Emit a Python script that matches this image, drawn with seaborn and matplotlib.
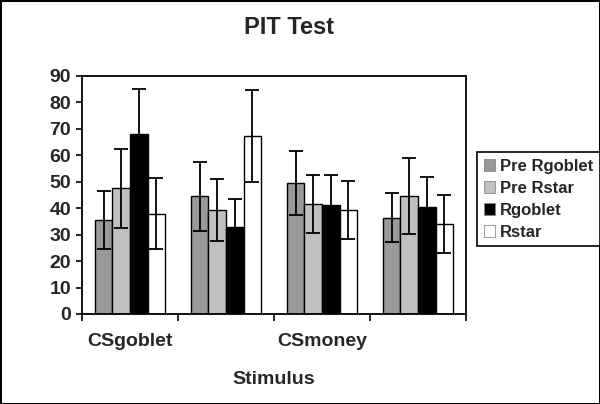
import numpy as np
import pandas as pd
import matplotlib
matplotlib.use("Agg")
import matplotlib.pyplot as plt
import seaborn as sns

# ---- data ----
categories = ["G1", "G2", "G3", "G4"]
tick_labels = ["CSgoblet", "CSmoney"]
series = ["Pre Rgoblet", "Pre Rstar", "Rgoblet", "Rstar"]
pre_rgoblet = [35.6, 44.4, 49.5, 36.4]
pre_rstar = [47.5, 39.3, 41.5, 44.5]
rgoblet = [67.8, 32.9, 41.2, 40.3]
rstar = [37.9, 67.2, 39.2, 34.1]
pre_rgoblet_err = [11.0, 13.0, 12.0, 9.2]
pre_rstar_err = [15.0, 11.6, 11.0, 14.3]
rgoblet_err = [17.0, 10.6, 11.3, 11.6]
rstar_err = [13.4, 17.4, 11.0, 11.0]
yticks = [0, 10, 20, 30, 40, 50, 60, 70, 80, 90]

values = [pre_rgoblet, pre_rstar, rgoblet, rstar]
errors = [pre_rgoblet_err, pre_rstar_err, rgoblet_err, rstar_err]
df = pd.DataFrame({
    "Stimulus": [c for s in series for c in categories],
    "Series": [s for s in series for c in categories],
    "Value": [v for vals in values for v in vals],
})

sns.set_theme(style="white")
plt.rcParams["font.family"] = ["Liberation Sans", "DejaVu Sans"]
plt.rcParams["font.weight"] = "bold"

fig = plt.figure(figsize=(6.0, 4.04), dpi=100, facecolor="white",
                 edgecolor="black", linewidth=2)
ax = fig.add_axes([82 / 600, 90 / 404, 384 / 600, 238.3 / 404])

palette = {"Pre Rgoblet": "#999999", "Pre Rstar": "#c0c0c0",
           "Rgoblet": "#000000", "Rstar": "#ffffff"}
sns.barplot(data=df, x="Stimulus", y="Value", hue="Series", order=categories,
            hue_order=series, palette=palette, width=0.73, saturation=1,
            edgecolor="black", linewidth=1.0, errorbar=None, ax=ax)

for cont, errs in zip(ax.containers, errors):
    xs = [p.get_x() + p.get_width() / 2 for p in cont.patches]
    ys = [p.get_height() for p in cont.patches]
    ax.errorbar(xs, ys, yerr=errs, fmt="none", ecolor="black",
                elinewidth=1.3, capsize=5, capthick=1.3, zorder=5)

ax.set_ylim(0, 90)
ax.set_xlim(-0.5, 3.5)
ax.set_yticks(yticks)
ax.set_yticklabels([str(t) for t in yticks], fontsize=14, fontweight="bold")
# tick marks at category boundaries; labels only under 1st and 3rd category
ax.set_xticks([-0.5, 0.5, 1.5, 2.5, 3.5])
ax.set_xticklabels([""] * 5)
ax.set_xticks([0, 2], minor=True)
ax.set_xticklabels(tick_labels, minor=True, fontsize=14, fontweight="bold")
ax.tick_params(axis="x", which="minor", length=0, pad=14)
ax.tick_params(axis="x", which="major", direction="out", length=5, width=1.2,
               color="black", bottom=True)
ax.tick_params(axis="y", direction="out", length=4, width=1.2, color="black",
               left=True, pad=4)
ax.set_xlabel("Stimulus", fontsize=14, fontweight="bold", labelpad=15)
ax.set_ylabel("")
for s in ax.spines.values():
    s.set_visible(True)
    s.set_color("black")
    s.set_linewidth(1.3)

fig.text(289 / 600, 1 - 27 / 404, "PIT Test", ha="center", va="center",
         fontsize=17, fontweight="bold")

handles, labels = ax.get_legend_handles_labels()
for h in handles:
    h.set_edgecolor("#888888")
    h.set_linewidth(0.6)
ax.legend(handles, labels, loc="upper left",
          bbox_to_anchor=(477 / 600, 1 - 152 / 404), bbox_transform=fig.transFigure,
          frameon=True, fancybox=False, edgecolor="black", framealpha=1,
          prop={"size": 12, "weight": "bold"}, handlelength=0.7, handleheight=0.7,
          handletextpad=0.3, labelspacing=0.42, borderpad=0.4, borderaxespad=0)
ax.get_legend().get_frame().set_linewidth(1.2)

fig.savefig("out.png", dpi=100, facecolor="white", edgecolor="black")
